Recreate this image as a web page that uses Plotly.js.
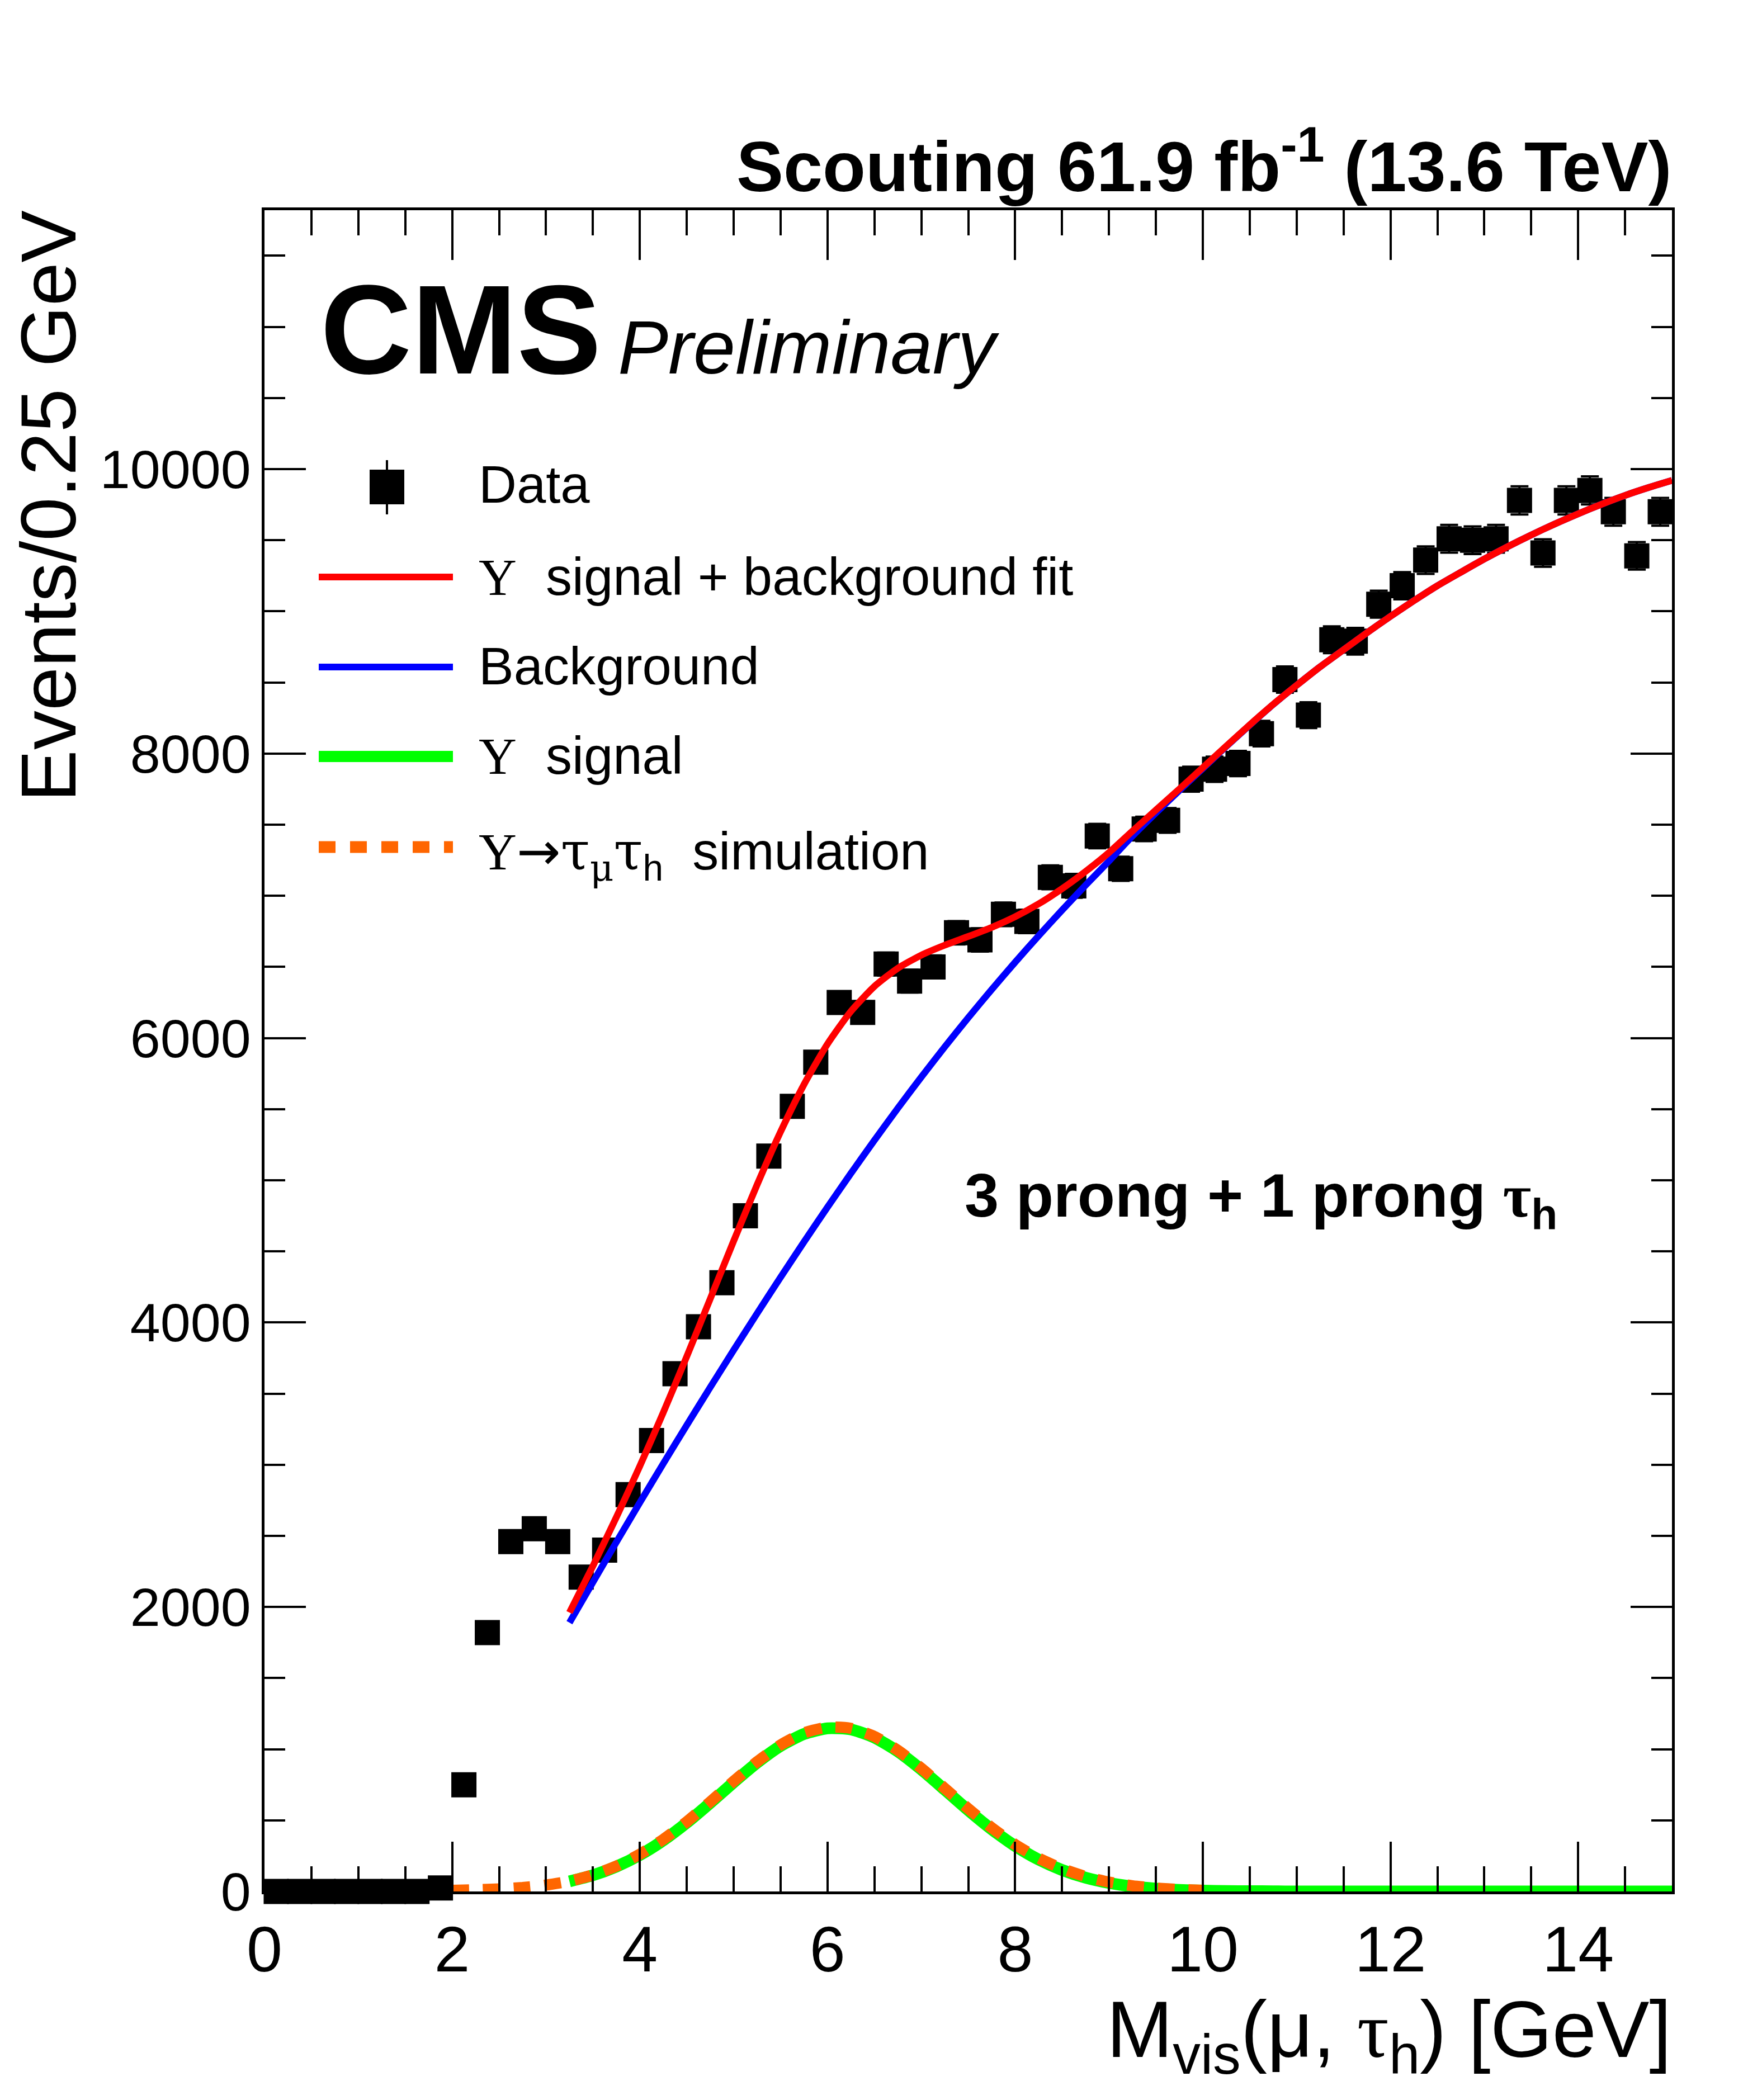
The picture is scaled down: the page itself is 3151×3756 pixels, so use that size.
<!DOCTYPE html>
<html><head><meta charset="utf-8">
<script src="https://cdn.plot.ly/plotly-3.0.1.min.js"></script>
<style>html,body{margin:0;padding:0;background:#fff;}</style>
</head><body><div id="plot" style="width:3151px;height:3756px;"></div>
<script>
// ---------- data ----------
const binCenters = [0.125,0.375,0.625,0.875,1.125,1.375,1.625,1.875,2.125,2.375,2.625,2.875,3.125,3.375,3.625,3.875,
  4.125,4.375,4.625,4.875,5.125,5.375,5.625,5.875,6.125,6.375,6.625,6.875,7.125,7.375,7.625,7.875,
  8.125,8.375,8.625,8.875,9.125,9.375,9.625,9.875,10.125,10.375,10.625,10.875,11.125,11.375,11.625,11.875,
  12.125,12.375,12.625,12.875,13.125,13.375,13.625,13.875,14.125,14.375,14.625,14.875];
const dataCounts = [0,0,0,0,0,0,0,25,750,1820,2460,2550,2460,2210,2400,2790,
  3170,3640,3970,4280,4750,5170,5520,5830,6250,6180,6520,6400,6500,6740,6690,6870,
  6820,7130,7070,7420,7190,7470,7530,7820,7890,7930,8140,8520,8270,8800,8790,9050,
  9180,9360,9510,9500,9510,9780,9410,9780,9850,9700,9390,9700];
const dataErrors = [0,0,0,0,0,0,0,5,27,43,50,50,50,47,49,53,
  56,60,63,65,69,72,74,76,79,79,81,80,81,82,82,83,
  83,84,84,86,85,86,87,88,89,89,90,92,91,94,94,95,
  96,97,98,97,98,99,97,99,99,98,97,98];

const fitMass = [3.25,3.5,3.75,4.0,4.25,4.5,4.75,5.0,5.25,5.5,5.75,6.0,6.25,6.5,6.75,7.0,
  7.25,7.5,7.75,8.0,8.25,8.5,8.75,9.0,9.25,9.5,9.75,10.0,10.25,10.5,10.75,11.0,
  11.25,11.5,11.75,12.0,12.25,12.5,12.75,13.0,13.25,13.5,13.75,14.0,14.25,14.5,14.75,15.0];
const fitTotal = [1961,2288,2631,2990,3367,3761,4166,4573,4969,5341,5674,5958,6188,6363,6491,6583,
  6653,6714,6778,6853,6943,7050,7171,7304,7455,7603,7751,7901,8053,8202,8346,8480,
  8610,8730,8850,8965,9075,9180,9275,9368,9455,9537,9614,9686,9753,9815,9870,9920];
const fitBackground = [1890,2174,2456,2734,3008,3278,3544,3806,4064,4318,4567,4811,5049,5281,5507,5726,
  5938,6143,6341,6533,6719,6899,7074,7244,7420,7583,7740,7895,8050,8200,8345,8480,
  8610,8730,8850,8965,9075,9180,9275,9368,9455,9537,9614,9686,9753,9815,9870,9920];
const fitSignal = [71,114,175,256,359,483,622,767,905,1023,1107,1147,1139,1082,984,857,
  715,571,437,320,224,151,97,60,35,20,11,6,3,2,1,0,
  0,0,0,0,0,0,0,0,0,0,0,0,0,0,0,0];

const simMass = [2.0,2.25,2.5,2.75,3.0,3.25,3.5,3.75,4.0,4.25,4.5,4.75,5.0,5.25,5.5,5.75,6.0,
  6.25,6.5,6.75,7.0,7.25,7.5,7.75,8.0,8.25,8.5,8.75,9.0,9.25,9.5,9.75,10.0];
const simSignal = [8,12,18,28,45,72,116,178,262,366,490,630,775,912,1030,1115,1155,
  1147,1090,992,866,725,582,448,330,234,160,105,66,40,24,14,8];

const xTickValues = [0,2,4,6,8,10,12,14];
const yTickValues = [0,2000,4000,6000,8000,10000];

// ---------- page geometry (pixels of the 3151x3756 canvas) ----------
const W = 3151, H = 3756;
const L = 473, R = 2990, T = 376, B = 3383;
const px = X => (X - L) / (R - L);
const py = Y => (B - Y) / (B - T);

const SANS = "Liberation Sans, Arial, Helvetica, sans-serif";
const sv = s => "<span style=\"font-family:'Liberation Serif'\">" + s + "</span>";
const gk = s => "<span style=\"font-family:'DejaVu Serif'\">" + s + "</span>";
const ar = s => "<span style=\"font-family:'DejaVu Sans'\">" + s + "</span>";
const NB = "\u00a0";

const traces = [
  { x: binCenters, y: dataCounts, type: 'scatter', mode: 'markers', name: 'Data',
    marker: { symbol: 'square', size: 45, color: '#000000', line: { width: 0 } },
    error_y: { type: 'data', array: dataErrors, visible: true, color: '#000000', thickness: 4, width: 16 },
    cliponaxis: false, showlegend: false },
  { x: fitMass, y: fitSignal, type: 'scatter', mode: 'lines', name: 'Υ signal',
    line: { color: '#00ff00', width: 21, shape: 'spline', smoothing: 0.6 }, cliponaxis: false, showlegend: false },
  { x: simMass, y: simSignal, type: 'scatter', mode: 'lines', name: 'Υ→τμτh simulation',
    line: { color: '#ff6600', width: 20, dash: '30px,25px', shape: 'spline', smoothing: 0.6 }, cliponaxis: false, showlegend: false },
  { x: fitMass, y: fitBackground, type: 'scatter', mode: 'lines', name: 'Background',
    line: { color: '#0000ff', width: 12, shape: 'spline', smoothing: 0.6 }, showlegend: false },
  { x: fitMass, y: fitTotal, type: 'scatter', mode: 'lines', name: 'Υ signal + background fit',
    line: { color: '#ff0000', width: 12, shape: 'spline', smoothing: 0.6 }, showlegend: false }
];

const axisCommon = {
  showline: true, linecolor: '#000000', linewidth: 5, mirror: 'ticks',
  ticks: 'inside', tickcolor: '#000000', tickwidth: 4,
  showgrid: false, zeroline: false, fixedrange: true
};

const legendFont = { family: SANS, size: 94, color: '#000000' };
const LX = px(855);

const annotations = [
  { text: '<b>Scouting 61.9 fb<sup>-1</sup> (13.6 TeV)</b>', xref: 'paper', yref: 'paper',
    x: 1, y: py(343 + 0.212 * 126), xanchor: 'right', yanchor: 'bottom', showarrow: false, borderpad: 0,
    font: { family: SANS, size: 126, color: '#000000' } },
  { text: '<b>CMS</b>', xref: 'paper', yref: 'paper', x: px(572), y: py(669 + 0.212 * 226),
    xanchor: 'left', yanchor: 'bottom', showarrow: false, borderpad: 0,
    font: { family: SANS, size: 226, color: '#000000' } },
  { text: '<i>Preliminary</i>', xref: 'paper', yref: 'paper', x: px(1104), y: py(669 + 0.212 * 135),
    xanchor: 'left', yanchor: 'bottom', showarrow: false, borderpad: 0,
    font: { family: SANS, size: 135, color: '#000000' } },
  { text: 'Data', xref: 'paper', yref: 'paper', x: LX, y: py(900 + 0.212 * 94),
    xanchor: 'left', yanchor: 'bottom', showarrow: false, borderpad: 0, font: legendFont },
  { text: sv('Υ') + NB + NB + 'signal + background fit', xref: 'paper', yref: 'paper', x: LX, y: py(1065 + 0.212 * 94),
    xanchor: 'left', yanchor: 'bottom', showarrow: false, borderpad: 0, font: legendFont },
  { text: 'Background', xref: 'paper', yref: 'paper', x: LX, y: py(1225 + 0.212 * 94),
    xanchor: 'left', yanchor: 'bottom', showarrow: false, borderpad: 0, font: legendFont },
  { text: sv('Υ') + NB + NB + 'signal', xref: 'paper', yref: 'paper', x: LX, y: py(1385 + 0.212 * 94),
    xanchor: 'left', yanchor: 'bottom', showarrow: false, borderpad: 0, font: legendFont },
  { text: sv('Υ') + ar('→') + gk('τ') + '<sub>' + gk('μ') + '</sub>' + gk('τ') + '<sub>h</sub>' + NB + NB + 'simulation',
    xref: 'paper', yref: 'paper', x: LX, y: py(1552 - 0.905 * 94),
    xanchor: 'left', yanchor: 'top', showarrow: false, borderpad: 0, font: legendFont },
  { text: '<b>3 prong + 1 prong ' + sv('τ') + '<sub>h</sub></b>', xref: 'paper', yref: 'paper',
    x: px(1724), y: py(2175 - 0.905 * 110), xanchor: 'left', yanchor: 'top', showarrow: false, borderpad: 0,
    font: { family: SANS, size: 110, color: '#000000' } },
  { text: 'M<sub>vis</sub>(μ, ' + sv('τ') + '<sub>h</sub>) [GeV]', xref: 'paper', yref: 'paper',
    x: 1, y: py(3678 - 0.905 * 142), xanchor: 'right', yanchor: 'top', showarrow: false, borderpad: 0,
    font: { family: SANS, size: 142, color: '#000000' } },
  { text: 'Events/0.25 GeV', xref: 'paper', yref: 'paper', textangle: -90,
    x: px(165), y: 1, xanchor: 'right', yanchor: 'top', showarrow: false, borderpad: 0,
    font: { family: SANS, size: 140, color: '#000000' } }
];

const shapes = [
  { type: 'line', xref: 'paper', yref: 'paper', x0: px(570), x1: px(810), y0: py(1032), y1: py(1032),
    line: { color: '#ff0000', width: 12 } },
  { type: 'line', xref: 'paper', yref: 'paper', x0: px(570), x1: px(810), y0: py(1193), y1: py(1193),
    line: { color: '#0000ff', width: 12 } },
  { type: 'line', xref: 'paper', yref: 'paper', x0: px(570), x1: px(810), y0: py(1353), y1: py(1353),
    line: { color: '#00ff00', width: 20 } },
  { type: 'line', xref: 'paper', yref: 'paper', x0: px(570), x1: px(810), y0: py(1515), y1: py(1515),
    line: { color: '#ff6600', width: 21, dash: '30px,26px' } },
  { type: 'line', xref: 'paper', yref: 'paper', x0: px(692), x1: px(692), y0: py(920), y1: py(823),
    line: { color: '#000000', width: 4 } },
  { type: 'rect', xref: 'paper', yref: 'paper', x0: px(661), x1: px(723), y0: py(902), y1: py(840),
    fillcolor: '#000000', line: { width: 0 } }
];

const layout = {
  width: W, height: H, autosize: false,
  margin: { l: L, r: W - R, t: T, b: H - B, pad: 0 },
  paper_bgcolor: '#ffffff', plot_bgcolor: '#ffffff',
  showlegend: false,
  font: { family: SANS, color: '#000000' },
  xaxis: Object.assign({}, axisCommon, {
    range: [0, 15], tickmode: 'array', tickvals: xTickValues, ticktext: xTickValues.map(String),
    ticklen: 89, tickfont: { family: SANS, size: 115, color: '#000000' },
    minor: { dtick: 0.5, tick0: 0, ticks: 'inside', ticklen: 45, tickwidth: 4, tickcolor: '#000000', showgrid: false }
  }),
  yaxis: Object.assign({}, axisCommon, {
    range: [0, 11820], tickmode: 'array', tickvals: yTickValues, ticktext: yTickValues.map(String),
    ticklen: 74, tickfont: { family: SANS, size: 97, color: '#000000' },
    minor: { dtick: 500, tick0: 0, ticks: 'inside', ticklen: 37, tickwidth: 4, tickcolor: '#000000', showgrid: false }
  }),
  annotations: annotations,
  shapes: shapes
};

Plotly.newPlot('plot', traces, layout, { displayModeBar: false, staticPlot: true });
</script>
</body></html>
